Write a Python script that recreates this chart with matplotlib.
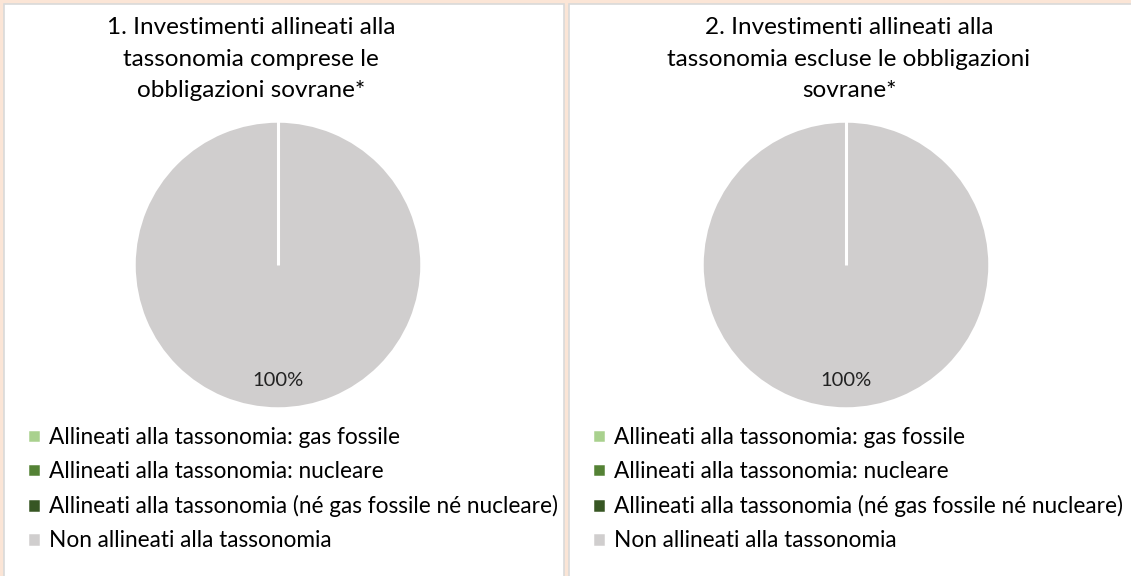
import numpy as np
import matplotlib.pyplot as plt
from matplotlib.patches import Rectangle

# Data
categories = ['Allineati alla tassonomia: gas fossile',
              'Allineati alla tassonomia: nucleare',
              'Allineati alla tassonomia (né gas fossile né nucleare)',
              'Non allineati alla tassonomia']
values_incl = [0, 0, 0, 100]
values_excl = [0, 0, 0, 100]
colors = ['#A9D18E', '#548235', '#375623', '#D0CECE']
titles = ['1. Investimenti allineati alla\ntassonomia comprese le\nobbligazioni sovrane*',
          '2. Investimenti allineati alla\ntassonomia escluse le obbligazioni\nsovrane*']

plt.rcParams['font.family'] = ['Lato', 'DejaVu Sans']

W, H = 1131, 576
fig = plt.figure(figsize=(W / 100, H / 100), dpi=100)
fig.patch.set_facecolor('#FBE5D6')

# white panels with light grey border (pixel coords -> figure coords)
for x0, x1 in [(4, 564), (569, 1135)]:
    fig.patches.append(Rectangle((x0 / W, -0.05), (x1 - x0) / W, (H - 4) / H + 0.05,
                                 transform=fig.transFigure, facecolor='white',
                                 edgecolor='#D9D9D9', linewidth=1.2, zorder=-1))


def pct(p):
    return f'{p:.0f}%' if p > 0 else ''


panels = [(278, 251, values_incl, titles[0], 33),
          (846, 849, values_excl, titles[1], 598)]
r = 144
cy = 265
for cx, tx, vals, title, lx in panels:
    ax = fig.add_axes([(cx - r) / W, (H - cy - r) / H, 2 * r / W, 2 * r / H], zorder=2)
    wedges, _, autotexts = ax.pie(vals, colors=colors, startangle=90, counterclock=False,
                                  autopct=pct, pctdistance=0.8,
                                  wedgeprops=dict(edgecolor='white', linewidth=2.5),
                                  textprops=dict(fontsize=14.5, color='#222222'))
    # slice boundary of the empty slices (all at the start angle)
    a = np.deg2rad(wedges[0].theta1)
    ax.plot([0, np.cos(a)], [0, np.sin(a)], color='white', lw=2.2,
            solid_capstyle='butt', zorder=3)
    ax.set_xlim(-1, 1)
    ax.set_ylim(-1, 1)
    ax.set_aspect('equal')
    ax.axis('off')

    fig.text(tx / W, 1 - 17 / H, title, ha='center', va='top', fontsize=17.5,
             linespacing=1.62, color='black')

    fig.legend(wedges, categories, loc='upper left',
               bbox_to_anchor=((lx - 6) / W, 1 - 427 / H), frameon=False,
               fontsize=16.3, handlelength=0.6, handleheight=0.6,
               handletextpad=0.35, labelspacing=0.58, borderaxespad=0,
               borderpad=0)

fig.savefig('out.png', dpi=100, facecolor=fig.get_facecolor())
